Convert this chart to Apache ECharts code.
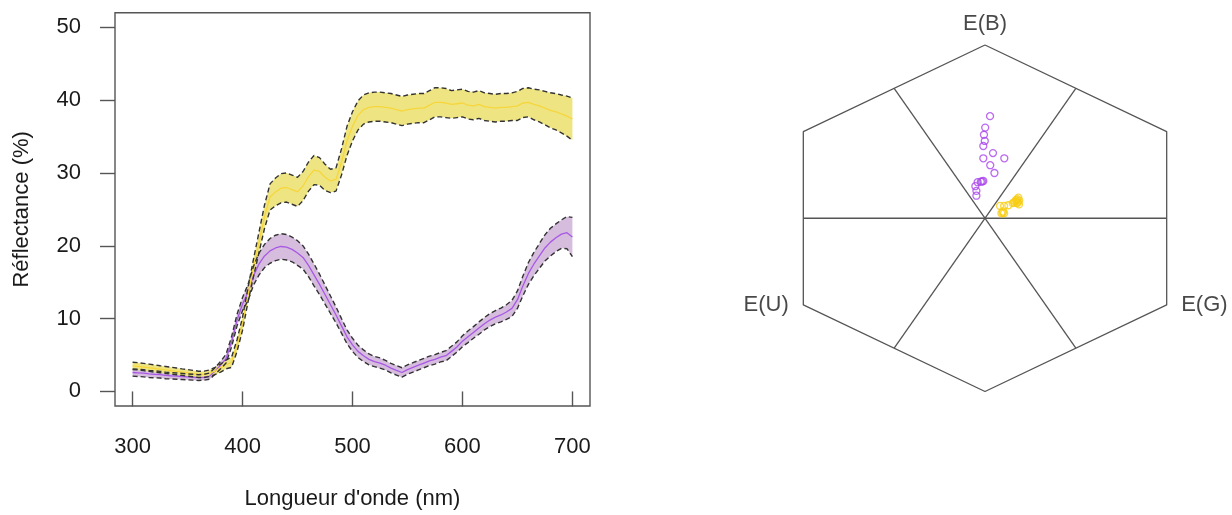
<!DOCTYPE html>
<html><head><meta charset="utf-8">
<script src="https://cdn.jsdelivr.net/npm/echarts@6/dist/echarts.min.js"></script>
<style>html,body{margin:0;padding:0;background:#fff}#c{width:1232px;height:515px}</style>
</head><body><div id="c"></div>
<script>
// ---- Data ----
const wavelengths = [300,305,310,315,320,325,330,335,340,345,350,355,360,365,370,375,380,385,390,395,
  400,405,410,415,420,425,430,435,440,445,450,455,460,465,470,475,480,485,490,495,
  500,505,510,515,520,525,530,535,540,545,550,555,560,565,570,575,580,585,590,595,
  600,605,610,615,620,625,630,635,640,645,650,655,660,665,670,675,680,685,690,695,700];

const yellowMean = [3.5,3.45,3.35,3.25,3.15,3.05,2.95,2.85,2.75,2.65,2.55,2.45,2.35,2.35,2.5,2.8,3.2,3.7,4.0,6.3,
  9.3,13.3,17.0,20.5,24.0,26.7,27.4,27.9,28.0,27.7,27.4,28.2,29.5,30.4,30.2,29.4,28.9,29.1,31.5,34.4,
  36.4,37.9,38.7,39.0,39.1,39.1,39.0,38.9,38.7,38.5,38.7,38.8,38.9,38.9,39.3,39.7,39.7,39.6,39.4,39.5,
  39.6,39.3,39.2,39.4,39.1,39.0,38.9,39.0,39.0,39.1,39.2,39.6,39.7,39.4,39.2,38.9,38.6,38.4,38.1,37.8,37.4];
const yellowSd = [0.5,0.5,0.5,0.5,0.5,0.48,0.48,0.47,0.46,0.45,0.45,0.44,0.43,0.43,0.45,0.5,0.55,0.6,0.7,0.8,
  0.9,1.0,1.2,1.4,1.6,1.8,1.9,2.0,2.0,2.0,2.0,2.0,2.0,2.0,1.9,1.8,1.6,1.6,1.8,2.0,
  2.0,2.0,2.0,2.0,2.0,2.0,2.0,2.0,2.0,2.0,2.0,2.0,2.0,2.0,2.0,2.0,2.0,2.0,1.9,1.9,
  1.9,1.9,1.9,1.9,1.9,1.9,1.9,1.9,1.9,1.9,2.0,2.0,2.0,2.1,2.2,2.3,2.4,2.5,2.6,2.75,2.9];

const purpleMean = [2.6,2.55,2.5,2.4,2.35,2.3,2.2,2.15,2.1,2.05,2.0,1.95,1.9,1.95,2.1,2.8,3.6,4.5,6.8,9.8,
  12.0,13.6,15.9,17.5,18.6,19.3,19.7,19.9,19.8,19.5,19.0,18.4,17.3,16.0,14.7,13.3,11.9,10.5,9.0,7.5,
  6.4,5.5,4.9,4.4,4.1,3.9,3.6,3.2,2.9,2.6,3.0,3.3,3.6,3.9,4.2,4.4,4.7,4.9,5.5,6.1,
  6.9,7.5,8.1,8.7,9.3,9.8,10.2,10.5,10.9,11.4,12.6,14.5,16.2,17.5,18.6,19.7,20.5,21.1,21.6,21.8,21.2];
const purpleSd = [0.5,0.5,0.5,0.48,0.47,0.46,0.45,0.44,0.43,0.42,0.41,0.4,0.4,0.4,0.42,0.45,0.5,0.6,0.7,0.8,
  0.9,1.1,1.3,1.5,1.6,1.7,1.75,1.75,1.75,1.7,1.7,1.6,1.55,1.5,1.4,1.3,1.2,1.1,1.0,0.95,
  0.9,0.85,0.8,0.75,0.7,0.7,0.65,0.65,0.65,0.65,0.65,0.65,0.65,0.65,0.65,0.65,0.65,0.7,0.7,0.7,
  0.75,0.8,0.8,0.85,0.85,0.9,0.9,0.95,1.0,1.1,1.2,1.35,1.5,1.6,1.7,1.8,1.9,1.9,1.95,2.2,2.7];

const xTicks = [300,400,500,600,700];
const yTicks = [0,10,20,30,40,50];

// Hexagon colour space (unit coordinates)
const hexVertices = [[0,1],[0.866,0.5],[0.866,-0.5],[0,-1],[-0.866,-0.5],[-0.866,0.5],[0,1]];
const hexSpokes = [
  [[-0.433,0.75],[0.433,-0.75]],
  [[0.433,0.75],[-0.433,-0.75]],
  [[-0.866,0],[0.866,0]]
];
const hexLabelNames = ['E(B)','E(U)','E(G)'];
const hexLabelAnchors = [[0,1],[-0.866,-0.5],[0.866,-0.5]];

const purplePoints = [[0.024,0.589],[0.001,0.523],[-0.005,0.482],[-0.001,0.446],[-0.008,0.417],
  [0.038,0.376],[-0.008,0.346],[0.092,0.346],[0.025,0.306],[0.045,0.261],[-0.008,0.215],
  [-0.014,0.212],[-0.020,0.211],[-0.035,0.208],[-0.046,0.185],[-0.041,0.158],[-0.041,0.130]];
const yellowPoints = [[0.0715,0.071],[0.091,0.071],[0.111,0.075],[0.132,0.087],[0.144,0.096],
  [0.154,0.110],[0.159,0.119],[0.148,0.106],[0.163,0.102],[0.138,0.091],[0.084,0.032],
  [0.091,0.029],[0.078,0.029],[0.086,0.039],[0.153,0.088],[0.162,0.080],[0.150,0.099],[0.157,0.092]];

// ---- Styles ----
const YELLOW_FILL = 'rgb(238,229,130)';
const YELLOW_LINE = 'rgb(246,214,60)';
const PURPLE_FILL = 'rgb(214,189,222)';
const PURPLE_LINE = 'rgb(168,88,228)';
const AXIS_COL = '#555';
const TXT_COL = '#1a1a1a';
const FONT = 'Liberation Sans, Arial, sans-serif';

function bandSeries(mean, sd, fill) {
  return {
    type: 'custom', xAxisIndex: 0, yAxisIndex: 0, silent: true,
    data: [[500, 20]],
    renderItem: function (params, api) {
      const pts = [];
      for (let i = 0; i < wavelengths.length; i++) pts.push(api.coord([wavelengths[i], mean[i] + sd[i]]));
      for (let i = wavelengths.length - 1; i >= 0; i--) pts.push(api.coord([wavelengths[i], mean[i] - sd[i]]));
      return { type: 'polygon', shape: { points: pts }, style: { fill: fill } };
    }
  };
}
function lineSeries(vals, color, width, dash, z) {
  return {
    type: 'line', xAxisIndex: 0, yAxisIndex: 0, symbol: 'none', silent: true, z: z,
    data: wavelengths.map((w, i) => [w, vals[i]]),
    lineStyle: { color: color, width: width, type: dash ? [5, 3] : 'solid' }
  };
}
const add = (m, s, k) => m.map((v, i) => v + k * s[i]);

const series = [
  bandSeries(purpleMean, purpleSd, PURPLE_FILL),
  bandSeries(yellowMean, yellowSd, YELLOW_FILL),
  lineSeries(purpleMean, PURPLE_LINE, 1.3, false, 3),
  lineSeries(yellowMean, YELLOW_LINE, 1.3, false, 3),
  lineSeries(add(purpleMean, purpleSd, 1), '#333', 1.4, true, 4),
  lineSeries(add(purpleMean, purpleSd, -1), '#333', 1.4, true, 4),
  lineSeries(add(yellowMean, yellowSd, 1), '#333', 1.4, true, 4),
  lineSeries(add(yellowMean, yellowSd, -1), '#333', 1.4, true, 4),
  {
    type: 'line', xAxisIndex: 1, yAxisIndex: 1, symbol: 'none', silent: true,
    data: hexVertices, lineStyle: { color: AXIS_COL, width: 1.3 }
  }
];
hexSpokes.forEach(sp => series.push({
  type: 'line', xAxisIndex: 1, yAxisIndex: 1, symbol: 'none', silent: true,
  data: sp, lineStyle: { color: AXIS_COL, width: 1.3 }
}));
const labelPos = ['top', 'left', 'right'];
hexLabelNames.forEach((n, i) => series.push({
  type: 'scatter', xAxisIndex: 1, yAxisIndex: 1, silent: true, symbolSize: 1,
  itemStyle: { color: 'rgba(0,0,0,0)' },
  data: [{ value: hexLabelAnchors[i], name: n }],
  label: { show: true, position: labelPos[i], distance: i === 0 ? 10 : 14, formatter: '{b}',
    fontSize: 22, color: TXT_COL, fontFamily: FONT }
}));
series.push({
  type: 'scatter', xAxisIndex: 1, yAxisIndex: 1, silent: true, symbol: 'circle', symbolSize: 7,
  data: purplePoints, itemStyle: { color: 'rgba(0,0,0,0)', borderColor: 'rgb(170,70,235)', borderWidth: 1.3 }, z: 5
});
series.push({
  type: 'scatter', xAxisIndex: 1, yAxisIndex: 1, silent: true, symbol: 'circle', symbolSize: 7,
  data: yellowPoints, itemStyle: { color: 'rgba(0,0,0,0)', borderColor: 'rgb(248,205,20)', borderWidth: 1.3 }, z: 5
});

const option = {
  animation: false,
  backgroundColor: '#fff',
  textStyle: { fontFamily: FONT },
  grid: [
    { left: 115, top: 12.7, width: 475, height: 393.3, show: true, borderColor: AXIS_COL, borderWidth: 1.4, backgroundColor: 'transparent' },
    { left: 775.2, top: 36.3, width: 419.6, height: 363.9, show: false }
  ],
  xAxis: [
    { type: 'value', gridIndex: 0, min: 284, max: 716,
      axisLine: { show: false },
      axisTick: { show: true, inside: false, length: 15, customValues: xTicks, lineStyle: { color: AXIS_COL, width: 1.4 } },
      axisLabel: { show: true, customValues: xTicks, fontSize: 22, color: TXT_COL, margin: 30, fontFamily: FONT },
      splitLine: { show: false },
      name: "Longueur d'onde (nm)", nameLocation: 'middle', nameGap: 82,
      nameTextStyle: { fontSize: 22, color: TXT_COL, fontFamily: FONT }
    },
    { type: 'value', gridIndex: 1, min: -1, max: 1, show: false }
  ],
  yAxis: [
    { type: 'value', gridIndex: 0, min: -2, max: 52,
      axisLine: { show: false },
      axisTick: { show: true, inside: false, length: 15, customValues: yTicks, lineStyle: { color: AXIS_COL, width: 1.4 } },
      axisLabel: { show: true, customValues: yTicks, fontSize: 22, color: TXT_COL, margin: 34, fontFamily: FONT },
      splitLine: { show: false },
      name: 'Réflectance (%)', nameLocation: 'middle', nameGap: 82, nameRotate: 90,
      nameTextStyle: { fontSize: 22, color: TXT_COL, fontFamily: FONT }
    },
    { type: 'value', gridIndex: 1, min: -1.05, max: 1.05, show: false }
  ],
  series: series
};
const chart = echarts.init(document.getElementById('c'), null, { renderer: 'canvas' });
chart.setOption(option);
</script></body></html>
